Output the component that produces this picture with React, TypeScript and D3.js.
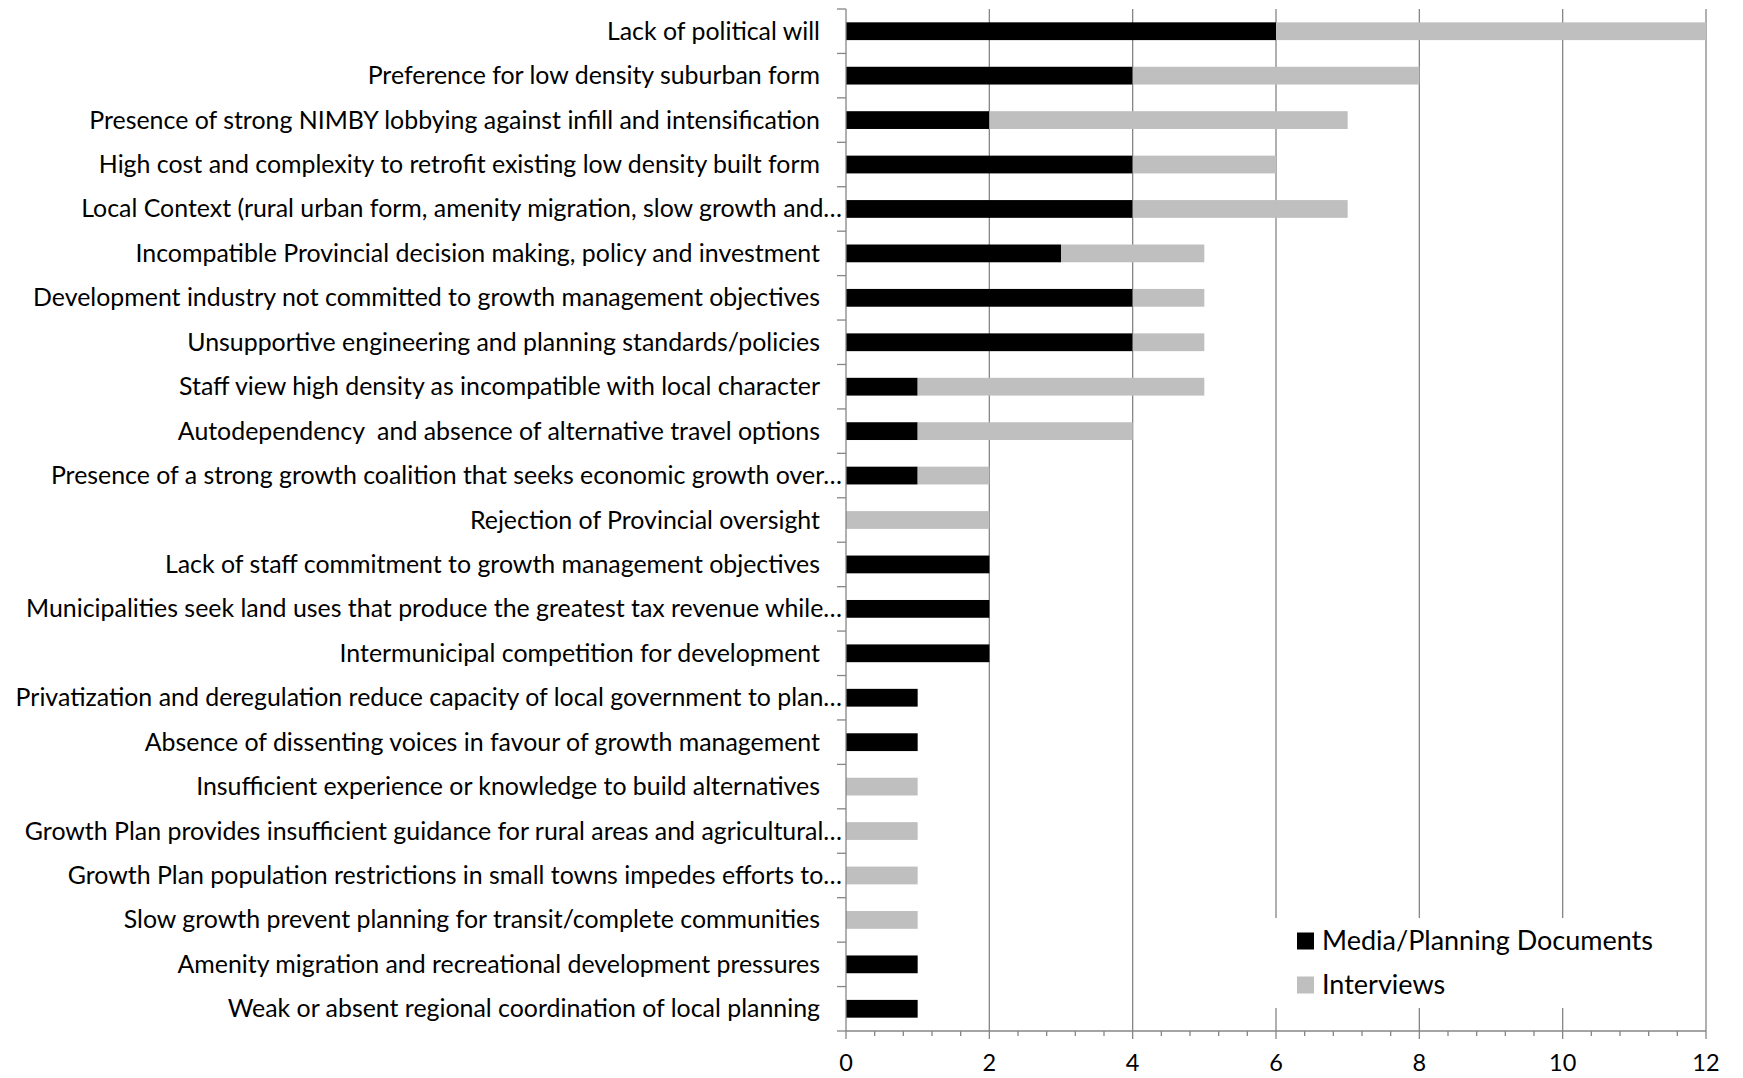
import React from "react";
import * as d3 from "d3";

// Barriers to growth management, counted by evidence source
const categories = [
  "Lack of political will",
  "Preference for low density suburban form",
  "Presence of strong NIMBY lobbying against infill and intensification",
  "High cost and complexity to retrofit existing low density built form",
  "Local Context (rural urban form, amenity migration, slow growth and…",
  "Incompatible Provincial decision making, policy and investment",
  "Development industry not committed to growth management objectives",
  "Unsupportive engineering and planning standards/policies",
  "Staff view high density as incompatible with local character",
  "Autodependency  and absence of alternative travel options",
  "Presence of a strong growth coalition that seeks economic growth over…",
  "Rejection of Provincial oversight",
  "Lack of staff commitment to growth management objectives",
  "Municipalities seek land uses that produce the greatest tax revenue while…",
  "Intermunicipal competition for development",
  "Privatization and deregulation reduce capacity of local government to plan…",
  "Absence of dissenting voices in favour of growth management",
  "Insufficient experience or knowledge to build alternatives",
  "Growth Plan provides insufficient guidance for rural areas and agricultural…",
  "Growth Plan population restrictions in small towns impedes efforts to…",
  "Slow growth prevent planning for transit/complete communities",
  "Amenity migration and recreational development pressures",
  "Weak or absent regional coordination of local planning",
];

const mediaDocs = [6, 4, 2, 4, 4, 3, 4, 4, 1, 1, 1, 0, 2, 2, 2, 1, 1, 0, 0, 0, 0, 1, 1];
const interviews = [6, 4, 5, 2, 3, 2, 1, 1, 4, 3, 1, 2, 0, 0, 0, 0, 0, 1, 1, 1, 1, 0, 0];

const seriesNames = ["Media/Planning Documents", "Interviews"];
const seriesColors = ["#000000", "#bfbfbf"];
const xTicks = [0, 2, 4, 6, 8, 10, 12];

const W = 1743;
const H = 1078;
const FONT = "Lato, 'Liberation Sans', sans-serif";

export default function App() {
  const x = d3.scaleLinear().domain([0, 12]).range([846, 1706]);
  const y = d3
    .scaleBand<string>()
    .domain(categories)
    .range([9, 1031])
    .paddingInner(0.6)
    .paddingOuter(0.3);

  const rows = categories.map((c, i) => ({ c, vals: [mediaDocs[i], interviews[i]] }));
  const stack = d3
    .stack<{ c: string; vals: number[] }, number>()
    .keys([0, 1])
    .value((d, k) => d.vals[k]);
  const layers = stack(rows);

  const [y0, y1] = [9, 1031];
  const step = y.step();
  const boundaries = d3.range(categories.length + 1).map((i) => y0 + i * step);
  const minor = d3.range(0, 12.001, 0.4).filter((v) => Math.abs(v / 2 - Math.round(v / 2)) > 1e-6);

  const axisColor = "#868686";

  return (
    <svg
      width={W}
      height={H}
      style={{ position: "absolute", left: 0, top: 0, background: "#fff" }}
      fontFamily={FONT}
    >
      <rect width={W} height={H} fill="#fff" />

      {/* vertical gridlines */}
      {xTicks.slice(1).map((t) => (
        <line key={t} x1={x(t)} x2={x(t)} y1={y0} y2={y1} stroke={axisColor} strokeWidth={1.3} />
      ))}

      {/* stacked bars */}
      {layers.map((layer, li) =>
        layer.map((seg, i) =>
          seg[1] - seg[0] > 0 ? (
            <rect
              key={`${li}-${i}`}
              x={x(seg[0])}
              width={x(seg[1]) - x(seg[0])}
              y={y(categories[i])!}
              height={y.bandwidth()}
              fill={seriesColors[li]}
            />
          ) : null
        )
      )}

      {/* category axis */}
      <line x1={x(0)} x2={x(0)} y1={y0} y2={y1} stroke={axisColor} strokeWidth={1.3} />
      {boundaries.map((b, i) => (
        <line key={i} x1={x(0) - 9} x2={x(0)} y1={b} y2={b} stroke={axisColor} strokeWidth={1.3} />
      ))}
      {categories.map((c) => {
        const cut = c.endsWith("…");
        return (
          <text
            key={c}
            x={cut ? 842 : 820}
            y={y(c)! + y.bandwidth() / 2 - 1.5}
            textAnchor="end"
            dominantBaseline="central"
            fontSize={24.9}
            fill="#000"
            style={{ whiteSpace: "pre" }}
          >
            {c}
          </text>
        );
      })}

      {/* value axis */}
      <line x1={x(0)} x2={x(12)} y1={y1} y2={y1} stroke={axisColor} strokeWidth={1.3} />
      {xTicks.map((t) => (
        <line key={t} x1={x(t)} x2={x(t)} y1={y1} y2={y1 + 8} stroke={axisColor} strokeWidth={1.3} />
      ))}
      {minor.map((t) => (
        <line key={t} x1={x(t)} x2={x(t)} y1={y1} y2={y1 + 5} stroke={axisColor} strokeWidth={1.3} />
      ))}
      {xTicks.map((t) => (
        <text key={t} x={x(t)} y={1062} textAnchor="middle" dominantBaseline="central" fontSize={23.5} fill="#000">
          {t}
        </text>
      ))}

      {/* legend */}
      <g>
        <rect x={1268} y={918} width={430} height={90} fill="#fff" />
        {seriesNames.map((n, i) => (
          <g key={n} transform={`translate(1297, ${941 + i * 44})`}>
            <rect x={0} y={-8.5} width={17} height={17} fill={seriesColors[i]} />
            <text x={25} y={-1.5} dominantBaseline="central" fontSize={27} fill="#000">
              {n}
            </text>
          </g>
        ))}
      </g>
    </svg>
  );
}
